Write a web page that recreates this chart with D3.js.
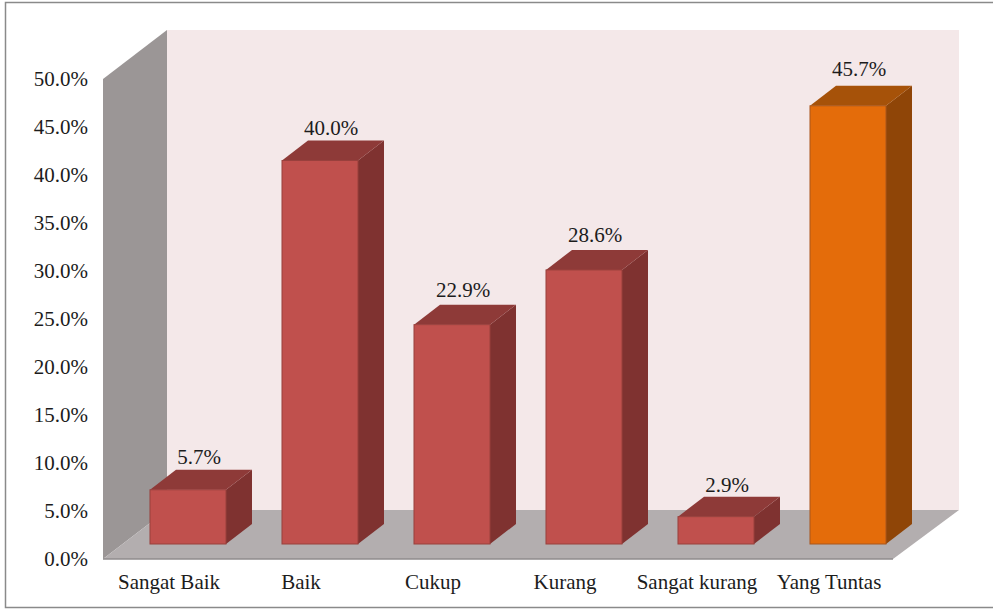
<!DOCTYPE html>
<html>
<head>
<meta charset="utf-8">
<script src="https://cdn.jsdelivr.net/npm/d3@7"></script>
<style>
  html, body { margin: 0; padding: 0; background: #fff; }
  text { font-family: "Liberation Serif", serif; font-size: 21px; fill: #1c1c1c; }
</style>
</head>
<body>
<div id="chart"></div>
<script>
// data
const categories = ["Sangat Baik", "Baik", "Cukup", "Kurang", "Sangat kurang", "Yang Tuntas"];
const values = [5.7, 40.0, 22.9, 28.6, 2.9, 45.7];
const tickValues = [0, 5, 10, 15, 20, 25, 30, 35, 40, 45, 50];

const width = 993, height = 610;
const left = 103, right = 893, top0 = 79, bottom = 559;
const wallDx = 64, wallDy = 49;   // depth of the chart box
const barDx = 26, barDy = 20;     // depth of one bar
const baseDx = 19, baseDy = 15;   // where the bars stand on the floor
const labelShift = [2, 2, 0, 0, 3, -2];  // the value labels do not sit at one fixed height

const x = d3.scaleBand().domain(categories).range([left, left + 792]).paddingInner(0.4242).paddingOuter(0.2121);
const y = d3.scaleLinear().domain([0, 50]).range([bottom, top0]);

const svg = d3.select("#chart").append("svg")
  .attr("width", width)
  .attr("height", height)
  .style("display", "block");

// frame, open on the right side
svg.append("path")
  .attr("d", `M${width},2.5H5.5V607.5H${width}`)
  .attr("fill", "none")
  .attr("stroke", "#8a8a8a")
  .attr("stroke-width", 1.5);

const poly = pts => pts.map(p => p.join(",")).join(" ");

// back wall, side wall and floor
svg.append("rect")
  .attr("x", left + wallDx).attr("y", top0 - wallDy)
  .attr("width", right - left + 2)
  .attr("height", bottom - top0)
  .attr("fill", "#f4e8e9");
svg.append("polygon")
  .attr("points", poly([[left, top0], [left + wallDx, top0 - wallDy], [left + wallDx, bottom - wallDy], [left, bottom]]))
  .attr("fill", "#9b9696");
svg.append("polygon")
  .attr("points", poly([[left, bottom], [left + wallDx, bottom - wallDy], [right + wallDx + 2, bottom - wallDy], [right, bottom]]))
  .attr("fill", "#b3aeaf");
svg.append("line")
  .attr("x1", left).attr("x2", right)
  .attr("y1", bottom).attr("y2", bottom)
  .attr("stroke", "#8f8b8c")
  .attr("stroke-width", 1.5);

// bars
const colors = i => i === 5
  ? { front: "#e46c0a", side: "#8f4507", top: "#a65209", edge: "#a9561c" }
  : { front: "#c0504d", side: "#7f3230", top: "#8e3a38", edge: "#99403d" };

const bars = svg.append("g").selectAll("g")
  .data(values)
  .join("g");

bars.each(function (d, i) {
  const g = d3.select(this);
  const c = colors(i);
  const x0 = x(categories[i]) + baseDx;
  const x1 = x0 + x.bandwidth();
  const yb = y(0) - baseDy;
  const yt = y(d) - baseDy + 0.5;
  g.append("polygon")
    .attr("points", poly([[x1, yt], [x1 + barDx, yt - barDy], [x1 + barDx, yb - barDy], [x1, yb]]))
    .attr("fill", c.side);
  g.append("polygon")
    .attr("points", poly([[x0, yt], [x0 + barDx, yt - barDy], [x1 + barDx, yt - barDy], [x1, yt]]))
    .attr("fill", c.top);
  g.append("rect")
    .attr("x", x0).attr("y", yt)
    .attr("width", x.bandwidth())
    .attr("height", yb - yt)
    .attr("fill", c.front)
    .attr("stroke", c.edge)
    .attr("stroke-width", 1);
  g.append("text")
    .attr("x", (x0 + x1) / 2 + 11)
    .attr("y", yt - barDy - 8 + labelShift[i])
    .attr("text-anchor", "middle")
    .text(d.toFixed(1) + "%");
});

// y axis
const yAxis = svg.append("g")
  .attr("transform", `translate(${left},0)`)
  .call(d3.axisLeft(y).tickValues(tickValues).tickSize(0).tickPadding(15).tickFormat(d => d.toFixed(1) + "%"));
yAxis.select(".domain").remove();
yAxis.selectAll("text").attr("fill", null);

// x axis
const xAxis = svg.append("g")
  .attr("transform", `translate(0,${bottom})`)
  .call(d3.axisBottom(x).tickSize(0).tickPadding(15));
xAxis.select(".domain").remove();
xAxis.selectAll("text").attr("fill", null);
xAxis.attr("font-size", null).attr("font-family", null);
yAxis.attr("font-size", null).attr("font-family", null);
</script>
</body>
</html>
